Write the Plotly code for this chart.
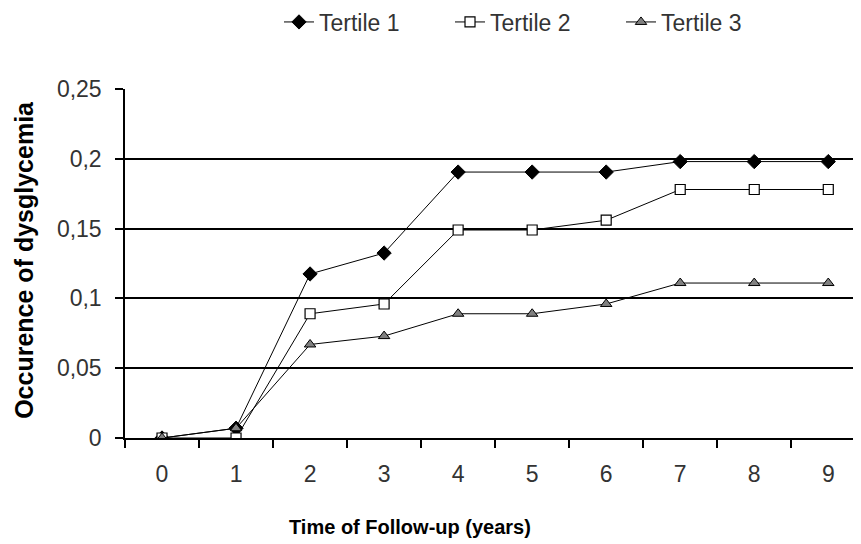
import plotly.graph_objects as go

years = ["0", "1", "2", "3", "4", "5", "6", "7", "8", "9"]
tertile1 = [0.0, 0.007, 0.1175, 0.1325, 0.1905, 0.1905, 0.1905, 0.198, 0.198, 0.198]
tertile2 = [0.0, 0.0, 0.089, 0.096, 0.149, 0.149, 0.156, 0.178, 0.178, 0.178]
tertile3 = [0.0, 0.007, 0.067, 0.073, 0.089, 0.089, 0.096, 0.111, 0.111, 0.111]
series_names = ["Tertile 1", "Tertile 2", "Tertile 3"]
y_ticks = [0, 0.05, 0.1, 0.15, 0.2, 0.25]
y_tick_labels = ["0", "0,05", "0,1", "0,15", "0,2", "0,25"]
x_title = "Time of Follow-up (years)"
y_title = "Occurence of dysglycemia"

FONT = "Liberation Sans, Arial, sans-serif"

fig = go.Figure()
fig.add_trace(go.Scatter(
    x=years, y=tertile1, name=series_names[0], mode="lines+markers",
    line=dict(color="black", width=1),
    marker=dict(symbol="diamond", size=11, color="black", line=dict(color="black", width=1)),
))
fig.add_trace(go.Scatter(
    x=years, y=tertile2, name=series_names[1], mode="lines+markers",
    line=dict(color="black", width=1),
    marker=dict(symbol="square", size=10, color="white", line=dict(color="black", width=1.2)),
))
fig.add_trace(go.Scatter(
    x=years, y=tertile3, name=series_names[2], mode="lines+markers",
    line=dict(color="black", width=1),
    marker=dict(symbol="triangle-up", size=10, color="#808080", line=dict(color="black", width=1)),
))

fig.update_layout(
    width=861, height=544,
    margin=dict(l=117, r=0, t=81, b=114, autoexpand=False),
    paper_bgcolor="white", plot_bgcolor="white",
    font=dict(family=FONT, size=23, color="#333333"),
    showlegend=True,
    legend=dict(orientation="h", x=0.207, xanchor="left", y=1.192, yanchor="middle",
                font=dict(size=23, color="#333333"), entrywidth=126, entrywidthmode="pixels",
                tracegroupgap=0, bgcolor="rgba(0,0,0,0)"),
    annotations=[
        dict(text="<b>" + x_title + "</b>", xref="paper", yref="paper",
             x=0.383, y=-0.255, xanchor="center", yanchor="middle", showarrow=False,
             font=dict(family=FONT, size=20, color="black")),
        dict(text="<b>" + y_title + "</b>", xref="paper", yref="paper",
             x=-0.136, y=0.51, xanchor="center", yanchor="middle", showarrow=False,
             textangle=-90, font=dict(family=FONT, size=25, color="black")),
    ],
)
fig.update_xaxes(
    type="category", tickson="boundaries", range=[-0.5, 9.55], automargin=False,
    showline=True, linecolor="black", linewidth=1.5,
    ticks="outside", ticklen=8, tickcolor="black", tickwidth=1.5,
    ticklabelstandoff=15,
    showgrid=False, zeroline=False,
)
fig.update_yaxes(
    range=[0, 0.25], tickvals=y_ticks, ticktext=y_tick_labels, automargin=False,
    showline=True, linecolor="black", linewidth=1.5,
    ticks="outside", ticklen=8, tickcolor="black", tickwidth=1.5,
    ticklabelstandoff=9,
    showgrid=True, gridcolor="black", gridwidth=1.5, zeroline=False,
)

fig.write_html("out.html")
